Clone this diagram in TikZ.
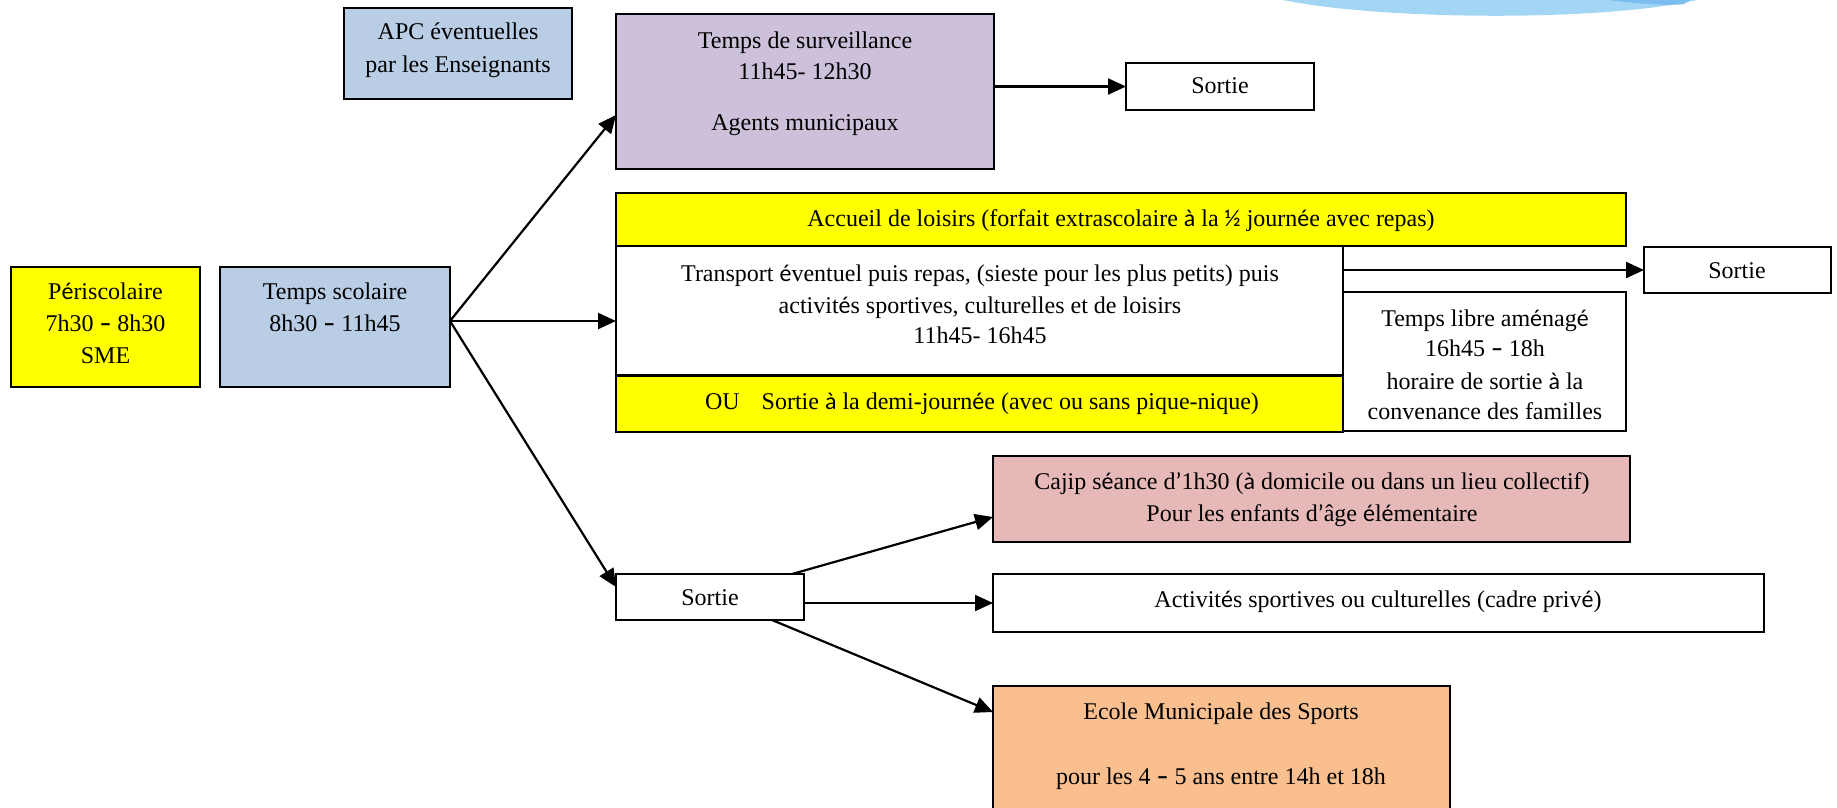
\documentclass[tikz,border=0pt]{standalone}
\usepackage{fontspec}
\setmainfont{Liberation Serif}
\newfontfamily\fbk{Carlito}
\usetikzlibrary{arrows.meta,calc}
\definecolor{cyel}{HTML}{FFFF00}
\definecolor{cblue}{HTML}{B9CDE5}
\definecolor{cpurp}{HTML}{CCC0DA}
\definecolor{cpink}{HTML}{E6B9B8}
\definecolor{corange}{HTML}{F9BF8F}
\definecolor{cshape}{HTML}{A3D5F5}
\definecolor{cshapedark}{HTML}{7DBEF0}
\tikzset{
  box/.style={draw=black, line width=2pt, inner sep=0pt, outer sep=0pt},
  txt/.style={anchor=base, inner sep=0pt, font=\fontsize{24}{30}\selectfont},
  arr/.style={line width=2.2pt, -{Triangle[length=18pt,width=16pt]}}
}
\newcommand{\mybox}[6]{\node[box,fill=#6,minimum width={#4pt-#2pt},minimum height={#5pt-#3pt}] (#1) at ({(#2+#4)/2},{(#3+#5)/2}) {};}
\newcommand{\mytxt}[4]{\node[txt] (#1) at (#2,{#3+6}) {#4};}
\newcommand{\fbdash}{{\fbk\bfseries –}}
\begin{document}
\begin{tikzpicture}[x=1pt,y=-1pt]
\useasboundingbox (0,0) rectangle (1837,807);
\clip (0,0) rectangle (1837,807);
\fill[white] (0,0) rectangle (1837,807);
% decorative shape at top
\fill[cshape] (1283,0) .. controls (1380,20) and (1600,22) .. (1697,0) -- cycle;
\fill[cshapedark] (1608,0) .. controls (1640,4) and (1668,6) .. (1684,4) -- (1690,0) -- cycle;

% boxes
\mybox{peri}{11}{267}{200}{387}{cyel}
\mybox{ts}{220}{267}{450}{387}{cblue}
\mybox{apc}{344}{8}{572}{99}{cblue}
\mybox{surv}{616}{14}{994}{169}{cpurp}
\mybox{sa}{1126}{63}{1314}{110}{white}
\mybox{acc}{616}{193}{1626}{246}{cyel}
\mybox{trans}{616}{246}{1343}{375}{white}
\mybox{ou}{616}{376}{1343}{432}{cyel}
\mybox{libre}{1343}{292}{1626}{431}{white}
\mybox{sb}{1644}{247}{1831}{293}{white}
\mybox{sc}{616}{574}{804}{620}{white}
\mybox{cajip}{993}{456}{1630}{542}{cpink}
\mybox{act}{993}{574}{1764}{632}{white}
\mybox{ecole}{993}{686}{1450}{840}{corange}

% texts
\mytxt{apcA}{458}{33}{APC éventuelles}
\mytxt{apcB}{458}{66}{par les Enseignants}
\mytxt{periA}{105.5}{293}{P{\fbk é}riscolaire}
\mytxt{periB}{105.5}{325}{7h30 \fbdash{} 8h30}
\mytxt{periC}{105.5}{357}{SME}
\mytxt{tsA}{335}{293}{Temps scolaire}
\mytxt{tsB}{335}{325}{8h30 \fbdash{} 11h45}
\mytxt{survA}{805}{42}{Temps de surveillance}
\mytxt{survB}{805}{73}{11h45- 12h30}
\mytxt{survC}{805}{124}{Agents municipaux}
\mytxt{saT}{1220}{87}{Sortie}
\mytxt{accT}{1121}{220}{Accueil de loisirs (forfait extrascolaire {\fbk à} la {\fbk ½} journ{\fbk é}e avec repas)}
\mytxt{transA}{980}{275}{Transport {\fbk é}ventuel puis repas, (sieste pour les plus petits) puis}
\mytxt{transB}{980}{307}{activit{\fbk é}s sportives, culturelles et de loisirs}
\mytxt{transC}{980}{337}{11h45- 16h45}
\mytxt{ouT}{982}{403}{OU\hspace{22pt}Sortie {\fbk à} la demi-journ{\fbk é}e (avec ou sans pique-nique)}
\mytxt{libreA}{1485}{320}{Temps libre am{\fbk é}nag{\fbk é}}
\mytxt{libreB}{1485}{350}{16h45 \fbdash{} 18h}
\mytxt{libreC}{1485}{383}{horaire de sortie {\fbk à} la}
\mytxt{libreD}{1485}{413}{convenance des familles}
\mytxt{sbT}{1737}{272}{Sortie}
\mytxt{scT}{710}{599}{Sortie}
\mytxt{cajipA}{1312}{483}{Cajip s{\fbk é}ance d{\fbk ’}1h30 ({\fbk à} domicile ou dans un lieu collectif)}
\mytxt{cajipB}{1312}{515}{Pour les enfants d{\fbk ’}âge {\fbk é}l{\fbk é}mentaire}
\mytxt{actT}{1378}{601}{Activit{\fbk é}s sportives ou culturelles (cadre priv{\fbk é})}
\mytxt{ecoleA}{1221}{713}{Ecole Municipale des Sports}
\mytxt{ecoleB}{1221}{778}{pour les 4 \fbdash{} 5 ans entre 14h et 18h}

% connectors
\coordinate (o) at ([yshift=6pt]ts.east);
\draw[arr] (o) -- ([yshift=54pt]surv.south west);
\draw[arr] (o) -- (o -| trans.west);
\draw[arr] (o) -- ([yshift=-13pt]sc.north west);
\draw[arr] (surv.east |- sa.west) -- (sa.west);
\draw[arr] (trans.east |- sb.west) -- (sb.west);
\draw[arr] ([xshift=176pt]sc.north west) -- ([yshift=25pt]cajip.south west);
\draw[arr] (sc.east |- act.west) -- (act.west);
\draw[arr] ([xshift=156pt]sc.south west) -- ([yshift=-26pt]ecole.north west);
\end{tikzpicture}
\end{document}
